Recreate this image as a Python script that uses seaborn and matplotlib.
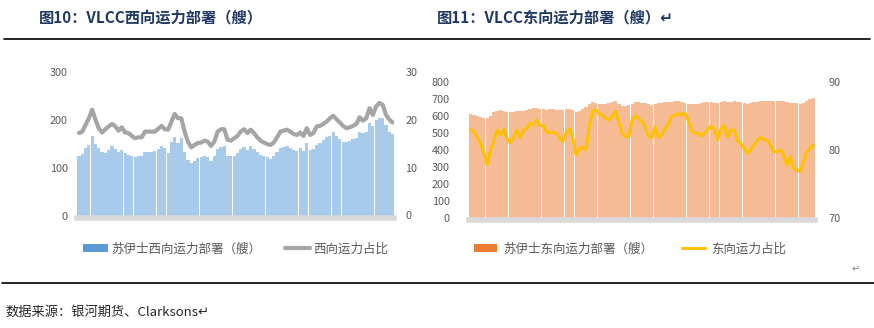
import numpy as np
import pandas as pd
import matplotlib
matplotlib.use("Agg")
import matplotlib.pyplot as plt
from matplotlib.patches import Patch
from matplotlib.lines import Line2D
import seaborn as sns

# ---- 西向 (westbound) weekly series ----
west_ships = [125, 129, 141, 148, 166, 150, 141, 134, 131, 138, 145, 139, 134, 138, 131, 127,
              125, 122, 125, 125, 134, 134, 134, 136, 139, 145, 141, 132, 155, 164, 153, 162,
              134, 117, 111, 115, 120, 122, 124, 122, 115, 125, 139, 143, 145, 125, 124, 125,
              131, 139, 143, 138, 145, 139, 134, 127, 124, 122, 118, 124, 134, 141, 143, 145,
              141, 138, 136, 141, 136, 152, 138, 139, 148, 153, 159, 164, 167, 176, 167, 160,
              155, 155, 157, 160, 162, 176, 174, 176, 194, 187, 201, 204, 204, 190, 176, 171]
west_share = [17.3, 17.6, 19.0, 20.4, 22.2, 20.1, 18.3, 17.4, 18.1, 18.7, 19.2, 18.7, 17.8, 18.5,
              17.4, 17.3, 16.7, 16.2, 16.4, 16.4, 17.6, 17.6, 17.6, 17.6, 18.2, 18.8, 18.1, 18.0,
              19.7, 21.3, 20.4, 20.4, 17.6, 15.5, 14.3, 14.8, 15.2, 15.3, 15.7, 15.5, 14.6, 15.5,
              17.6, 18.1, 18.1, 15.9, 15.7, 16.2, 16.7, 17.6, 18.1, 17.3, 18.0, 17.3, 16.4, 15.7,
              15.3, 15.0, 14.8, 15.3, 16.4, 17.6, 17.8, 18.0, 17.6, 17.1, 16.9, 17.4, 16.7, 18.3,
              16.9, 17.3, 18.7, 18.8, 19.2, 19.7, 20.4, 20.9, 20.2, 19.5, 18.8, 18.3, 18.5, 18.8,
              19.2, 20.6, 19.9, 20.4, 22.5, 21.1, 22.9, 23.6, 23.2, 21.1, 20.1, 19.5]

# ---- 东向 (eastbound) weekly series ----
east_ships = [613, 608, 602, 596, 589, 587, 600, 624, 631, 633, 628, 621, 621, 623, 627, 627,
              630, 636, 640, 644, 646, 643, 640, 636, 639, 639, 636, 634, 636, 640, 643, 635,
              621, 628, 638, 652, 670, 679, 676, 673, 672, 672, 674, 679, 686, 668, 658, 656,
              662, 672, 682, 681, 678, 676, 669, 667, 670, 674, 677, 680, 681, 684, 690, 687,
              684, 676, 673, 671, 670, 671, 674, 680, 682, 680, 676, 676, 680, 686, 682, 684,
              686, 683, 680, 676, 673, 675, 680, 684, 686, 686, 688, 689, 686, 690, 690, 686,
              680, 676, 676, 674, 673, 676, 690, 700, 703]
east_share = [83.0, 82.6, 81.8, 80.9, 79.5, 77.8, 79.9, 81.2, 82.9, 82.2, 83.0, 81.7, 81.0, 81.8,
              82.9, 81.8, 82.9, 83.1, 83.9, 83.6, 84.4, 83.5, 83.6, 82.6, 82.5, 82.6, 82.4, 81.8,
              81.2, 82.6, 83.0, 81.8, 79.2, 80.2, 80.4, 80.0, 83.4, 85.7, 85.9, 85.3, 85.1, 84.6,
              84.4, 85.0, 85.7, 84.0, 82.4, 81.9, 81.9, 84.4, 85.0, 84.6, 84.1, 83.3, 82.0, 81.8,
              83.4, 81.8, 82.2, 83.1, 83.8, 84.9, 85.1, 85.3, 85.2, 85.4, 84.4, 82.8, 82.5, 82.4,
              82.0, 82.5, 83.0, 83.5, 83.0, 81.5, 83.1, 83.6, 81.9, 82.9, 82.9, 81.3, 80.9, 80.2,
              79.5, 80.0, 80.7, 81.4, 81.8, 81.5, 81.4, 80.7, 79.7, 79.7, 80.0, 79.2, 77.7, 79.0,
              77.3, 77.0, 76.8, 78.2, 79.7, 80.2, 80.7]

left_ticks = [0, 100, 200, 300]
left_share_ticks = [0, 10, 20, 30]
right_ticks = [0, 100, 200, 300, 400, 500, 600, 700, 800]
right_share_ticks = [70, 80, 90]

title_w = "图10：VLCC西向运力部署（艘）"
title_e = "图11：VLCC东向运力部署（艘）↵"
lab_w_bar, lab_w_line = "苏伊士西向运力部署（艘）", "西向运力占比"
lab_e_bar, lab_e_line = "苏伊士东向运力部署（艘）", "东向运力占比"
source = "数据来源：银河期货、Clarksons↵"

sns.set_theme(style="white")
plt.rcParams["font.family"] = ["Noto Sans CJK SC", "DejaVu Sans"]

TXT = "#595959"
W, H = 874, 328
fig = plt.figure(figsize=(W / 100, H / 100), dpi=100)


def frac_box(x0, x1, y_bottom, y_top):
    return [x0 / W, 1 - y_bottom / H, (x1 - x0) / W, (y_bottom - y_top) / H]


def style_axes(ax, ax2, left_pad, right_pad):
    for sp in ["top", "left", "right"]:
        ax.spines[sp].set_visible(False)
        ax2.spines[sp].set_visible(False)
    ax2.spines["bottom"].set_visible(False)
    ax.spines["bottom"].set_color("#D9D9D9")
    ax.spines["bottom"].set_linewidth(4)
    ax.spines["bottom"].set_position(("outward", 2))
    ax.set_xticks([])
    ax.set_xlabel("")
    ax.set_ylabel("")
    ax2.set_ylabel("")
    ax.tick_params(axis="y", length=0, pad=left_pad, labelsize=7.8, labelcolor=TXT)
    ax2.tick_params(axis="y", length=0, pad=right_pad, labelsize=7.8, labelcolor=TXT)
    ax.grid(False)
    ax2.grid(False)


def draw_panel(box, bars, share, bar_color, line_color, lw, yt, yt2, pads):
    n = len(bars)
    df = pd.DataFrame({"t": np.arange(n), "ships": bars, "share": share})
    ax = fig.add_axes(box)
    sns.barplot(data=df, x="t", y="ships", ax=ax, color=bar_color, saturation=1,
                width=0.96, linewidth=0, native_scale=False)
    ax2 = ax.twinx()
    sns.lineplot(data=df, x="t", y="share", ax=ax2, color=line_color, linewidth=lw)
    ax.set_xlim(-0.5, n - 0.5)
    ax.set_ylim(yt[0], yt[-1])
    ax.set_yticks(yt)
    ax2.set_ylim(yt2[0], yt2[-1])
    ax2.set_yticks(yt2)
    style_axes(ax, ax2, *pads)
    return ax, ax2


assert len(west_ships) == len(west_share)
assert len(east_ships) == len(east_share)

draw_panel(frac_box(77.3, 394.3, 215.5, 72.5), west_ships, west_share,
           "#A9CBEB", "#A5A5A5", 3.0, left_ticks, left_share_ticks, (7, 8))
draw_panel(frac_box(469, 815, 217.5, 82), east_ships, east_share,
           "#F5BB95", "#FFC000", 2.2, right_ticks, right_share_ticks, (14, 10))

# legends
leg_kw = dict(frameon=False, ncol=2, loc="center left", borderpad=0, borderaxespad=0,
              handleheight=0.55, prop={"size": 9}, labelcolor=TXT)
fig.legend(handles=[Patch(facecolor="#5B9BD5", edgecolor="none", label=lab_w_bar),
                    Line2D([], [], color="#A5A5A5", lw=3, label=lab_w_line)],
           bbox_to_anchor=(83 / W, 1 - 249 / H), handlelength=2.0, handletextpad=0.25,
           columnspacing=1.9, **leg_kw)
fig.legend(handles=[Patch(facecolor="#ED7D31", edgecolor="none", label=lab_e_bar),
                    Line2D([], [], color="#FFC000", lw=2.2, label=lab_e_line)],
           bbox_to_anchor=(474 / W, 1 - 249 / H), handlelength=1.8, handletextpad=0.55,
           columnspacing=2.3, **leg_kw)

# titles, rules and source note
fig.text(39 / W, 1 - 17 / H, title_w, fontsize=11, fontweight="bold", color="#1F3864",
         va="center", ha="left")
fig.text(437 / W, 1 - 17 / H, title_e, fontsize=11, fontweight="bold", color="#1F3864",
         va="center", ha="left")
fig.add_artist(Line2D([4 / W, 870 / W], [1 - 39 / H] * 2, color="black", lw=1.2,
                      transform=fig.transFigure))
fig.add_artist(Line2D([2 / W, 1.0], [1 - 283 / H] * 2, color="black", lw=1.2,
                      transform=fig.transFigure))
fig.text(856 / W, 1 - 269 / H, "↵", fontsize=7, color="#7F7F7F", va="center", ha="center")
fig.text(5 / W, 1 - 313 / H, source, fontsize=9.5, color="#262626", va="center", ha="left")

fig.savefig("out.png", dpi=100, facecolor="white")
